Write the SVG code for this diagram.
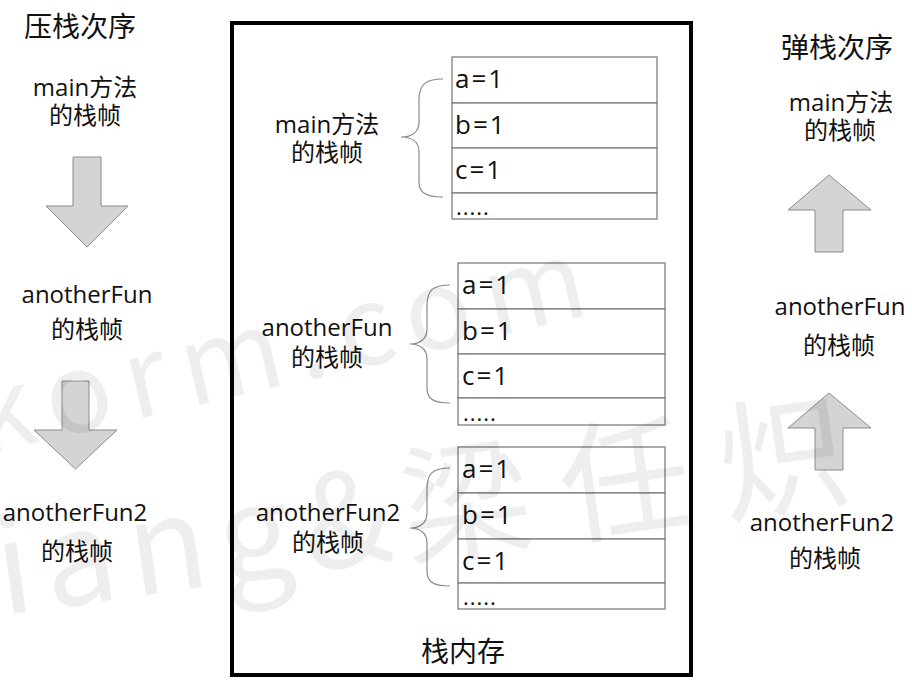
<svg xmlns="http://www.w3.org/2000/svg" width="912" height="691" viewBox="0 0 912 691">
<style>
text{font-family:"Open Sans","Noto Sans CJK SC",sans-serif;fill:#111}
.lbl{font-size:24px;text-anchor:middle}
.ttl{font-size:28px;text-anchor:middle}
.cell{font-size:26px;letter-spacing:2px}
.dots{font-size:22px;letter-spacing:1px}
.row{fill:#fff;stroke:#7f7f7f;stroke-width:1.3}
.brace{fill:none;stroke:#8a8a8a;stroke-width:1.2}
.blk{fill:#d4d4d4;stroke:#8c8c8c;stroke-width:1}
.wm{font-family:"Noto Sans CJK SC",sans-serif;font-weight:400;fill:#000;fill-opacity:0.065}
</style>
<rect width="912" height="691" fill="#fff"/>
<g id="stack-memory">
<rect x="232" y="23" width="459" height="652" fill="none" stroke="#000" stroke-width="4"/>
<text class="ttl" x="463" y="662">栈内存</text>
</g>
<g id="frame-main">
<rect class="row" x="452" y="57" width="205" height="46"/>
<rect class="row" x="452" y="103" width="205" height="45"/>
<rect class="row" x="452" y="148" width="205" height="45"/>
<rect class="row" x="452" y="193" width="205" height="26"/>
<text class="cell" x="455" y="88">a=1</text>
<text class="cell" x="455" y="134">b=1</text>
<text class="cell" x="455" y="179">c=1</text>
<text class="dots" x="456" y="215">.....</text>
<path class="brace" d="M443,79 C425,79 419,85 419,100 L419,122 C419,132 412,137 401,137 C412,137 419,142 419,152 L419,182 C419,192 425,197 443,197"/>
<text class="lbl" x="327" y="133">main方法</text>
<text class="lbl" x="327" y="161">的栈帧</text>
</g>
<g id="frame-anotherFun">
<rect class="row" x="458" y="263" width="207" height="46"/>
<rect class="row" x="458" y="309" width="207" height="45"/>
<rect class="row" x="458" y="354" width="207" height="44"/>
<rect class="row" x="458" y="398" width="207" height="27"/>
<text class="cell" x="462" y="294">a=1</text>
<text class="cell" x="462" y="340">b=1</text>
<text class="cell" x="462" y="385">c=1</text>
<text class="dots" x="463" y="421">.....</text>
<path class="brace" d="M450,285 C432,285 427,291 427,306 L427,329 C427,339 420,344 410,344 C420,344 427,349 427,359 L427,388 C427,398 432,403 450,403"/>
<text class="lbl" x="327" y="336">anotherFun</text>
<text class="lbl" x="327" y="366">的栈帧</text>
</g>
<g id="frame-anotherFun2">
<rect class="row" x="458" y="447" width="207" height="46"/>
<rect class="row" x="458" y="493" width="207" height="46"/>
<rect class="row" x="458" y="539" width="207" height="44"/>
<rect class="row" x="458" y="583" width="207" height="26"/>
<text class="cell" x="462" y="478">a=1</text>
<text class="cell" x="462" y="524">b=1</text>
<text class="cell" x="462" y="570">c=1</text>
<text class="dots" x="463" y="605">.....</text>
<path class="brace" d="M450,468 C432,468 427,474 427,489 L427,513 C427,523 420,528 410,528 C420,528 427,533 427,543 L427,571 C427,581 432,586 450,586"/>
<text class="lbl" x="328" y="521">anotherFun2</text>
<text class="lbl" x="328" y="551">的栈帧</text>
</g>
<g id="push-order">
<text class="ttl" x="80" y="37">压栈次序</text>
<text class="lbl" x="85" y="96">main方法</text>
<text class="lbl" x="85" y="124">的栈帧</text>
<text class="lbl" x="87" y="303">anotherFun</text>
<text class="lbl" x="87" y="338">的栈帧</text>
<text class="lbl" x="75" y="521">anotherFun2</text>
<text class="lbl" x="77" y="560">的栈帧</text>
</g>
<g id="pop-order">
<text class="ttl" x="837" y="58">弹栈次序</text>
<text class="lbl" x="841" y="111">main方法</text>
<text class="lbl" x="840" y="139">的栈帧</text>
<text class="lbl" x="840" y="315">anotherFun</text>
<text class="lbl" x="839" y="354">的栈帧</text>
<text class="lbl" x="822" y="531">anotherFun2</text>
<text class="lbl" x="825" y="567">的栈帧</text>
</g>
<g id="connectors">
<polygon class="blk" points="73,157 101,157 101,206 128,206 87,247 46,206 73,206"/>
<polygon class="blk" points="62,381 89,381 89,430 117,430 75.5,469 34,430 62,430"/>
<polygon class="blk" points="829,175 871,210 843,210 843,252 815,252 815,210 788,210"/>
<polygon class="blk" points="829,393 871,428 843,428 843,470 815,470 815,428 788,428"/>
</g>
<g id="watermark">
<text class="wm" x="-18" y="455" font-size="110" letter-spacing="15" transform="rotate(-13 -18 455)">korm.com</text>
<text class="wm" x="-45" y="622" font-size="130" letter-spacing="12" transform="rotate(-8 -45 622)">jiang&amp;<tspan letter-spacing="30">梁任炽</tspan></text>
</g>
</svg>
